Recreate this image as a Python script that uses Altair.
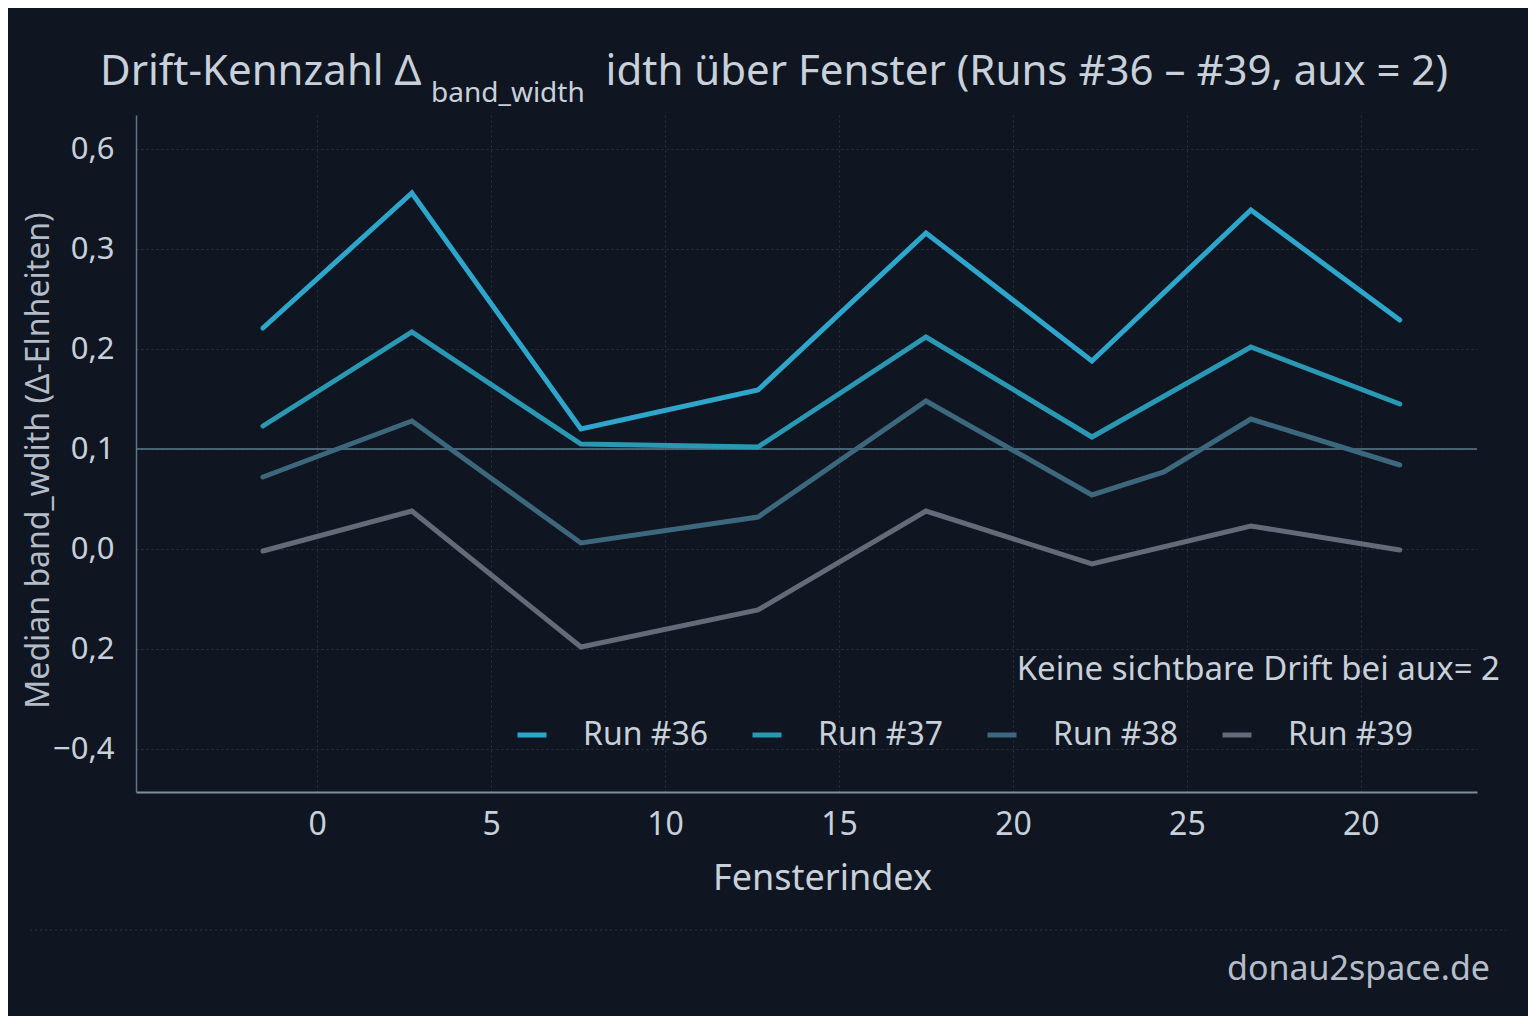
import altair as alt
import pandas as pd

# ---- data ----
runs = ["Run #36", "Run #37", "Run #38", "Run #39"]
colors = ["#2ea6cc", "#2a97b3", "#3c677c", "#636b79"]

x_main = [-1.56, 2.72, 7.58, 12.67, 17.50, 22.27, 26.84, 31.12]
x_run38 = [-1.56, 2.72, 7.58, 12.67, 17.50, 22.27, 24.34, 26.84, 31.12]

run36 = [0.221, 0.356, 0.120, 0.159, 0.316, 0.188, 0.339, 0.229]
run37 = [0.123, 0.217, 0.105, 0.102, 0.212, 0.112, 0.202, 0.145]
run38 = [0.072, 0.128, 0.006, 0.032, 0.148, 0.054, 0.077, 0.130, 0.084]
run39 = [-0.002, 0.038, -0.098, -0.061, 0.038, -0.015, 0.023, -0.001]

threshold = [0.1]

y_tick_values = [-0.2, -0.1, 0.0, 0.1, 0.2, 0.3, 0.4]
y_tick_labels = ["\u22120,4", "0,2", "0,0", "0,1", "0,2", "0,3", "0,6"]
x_tick_values = [0, 5, 10, 15, 20, 25, 30]
x_tick_labels = ["0", "5", "10", "15", "20", "25", "20"]

title_main = "Drift-Kennzahl \u0394"
title_sub = "band_width"
title_rest = "idth über Fenster (Runs #36 \u2013 #39, aux = 2)"
x_title = "Fensterindex"
y_title = "Median band_wdith (\u0394-Elnheiten)"
note_text = "Keine sichtbare Drift bei aux= 2"
footer_text = "donau2space.de"

# ---- build table ----
rows = []
for name, xs, ys in [("Run #36", x_main, run36), ("Run #37", x_main, run37),
                     ("Run #38", x_run38, run38), ("Run #39", x_main, run39)]:
    for i, (xv, yv) in enumerate(zip(xs, ys)):
        rows.append({"run": name, "order": i, "x": xv, "y": yv})
df = pd.DataFrame(rows)


def label_expr(values, labels, scale):
    expr = "''"
    for v, l in reversed(list(zip(values, labels))):
        expr = f"round(datum.value*{scale})=={round(v*scale)} ? '{l}' : ({expr})"
    return expr


FONT = "Noto Sans"
BG = "#0f1521"
TXT = "#c8d0da"

xscale = alt.Scale(domain=[-5.21, 33.34], nice=False, zero=False)
yscale = alt.Scale(domain=[-0.243, 0.434], nice=False, zero=False)

lines = alt.Chart(df).mark_line(strokeWidth=5, strokeCap="round").encode(
    x=alt.X("x:Q", scale=xscale,
            axis=alt.Axis(values=x_tick_values, labelExpr=label_expr(x_tick_values, x_tick_labels, 1),
                          title=x_title, titleX=686, titleY=86, titleBaseline="middle",
                          titleFontSize=36, titleFontWeight="normal", titleColor=TXT,
                          labelFontSize=32, labelColor=TXT, labelPadding=17, ticks=False,
                          domainColor="#7f8e9c", domainWidth=2,
                          grid=True, gridColor="#283342", gridDash=[2, 3], gridWidth=1)),
    y=alt.Y("y:Q", scale=yscale,
            axis=alt.Axis(values=y_tick_values, labelExpr=label_expr(y_tick_values, y_tick_labels, 10),
                          title=y_title, titleX=-98, titleY=345, titleAngle=-90,
                          titleAlign="center", titleBaseline="middle",
                          titleFontSize=32, titleFontWeight="normal", titleColor="#b4bcc8",
                          labelFontSize=31, labelColor=TXT, labelPadding=22, ticks=False,
                          domainColor="#5f7688", domainWidth=1.5,
                          grid=True, gridColor="#283342", gridDash=[2, 3], gridWidth=1)),
    color=alt.Color("run:N", scale=alt.Scale(domain=runs, range=colors),
                    legend=alt.Legend(orient="none", legendX=379, legendY=603, direction="horizontal",
                                      title=None, symbolType="stroke", symbolSize=841,
                                      symbolStrokeWidth=5, labelFontSize=32, labelColor=TXT,
                                      labelOffset=34, columnPadding=33, labelFont=FONT)),
    order="order:Q",
)

thr = alt.Chart(pd.DataFrame({"y": threshold})).mark_rule(color="#5d7b8e", strokeWidth=1.5).encode(
    y=alt.Y("y:Q", scale=yscale)
)


def text_layer(txt, x, y, size, align, color=TXT, baseline="middle"):
    return alt.Chart(pd.DataFrame({"t": [txt]})).mark_text(
        align=align, baseline=baseline, fontSize=size, font=FONT, color=color
    ).encode(text="t:N", x=alt.value(x), y=alt.value(y))


t1 = text_layer(title_main, -36, -43, 42, "left")
t2 = text_layer(title_sub, 295, -21, 28, "left")
t3 = text_layer(title_rest, 1312, -43, 42, "right")
note = text_layer(note_text, 1364, 555, 33, "right")
footer = text_layer(footer_text, 1354, 855, 34, "right", color="#b5bdc9")

sep = alt.Chart(pd.DataFrame({"a": [0]})).mark_rule(color="#2c3644", strokeDash=[2, 3], strokeWidth=1).encode(
    x=alt.value(-106), x2=alt.value(1370), y=alt.value(815)
)

chart = alt.layer(thr, lines, t1, t2, t3, note, footer, sep).properties(
    width=1341, height=677,
    padding={"left": 128, "top": 107, "right": 51, "bottom": 224},
    autosize=alt.AutoSizeParams(type="none"),
    background=BG,
).configure(font=FONT).configure_view(stroke=None)

chart.save("out.html", embed_options={"renderer": "svg", "actions": False})
